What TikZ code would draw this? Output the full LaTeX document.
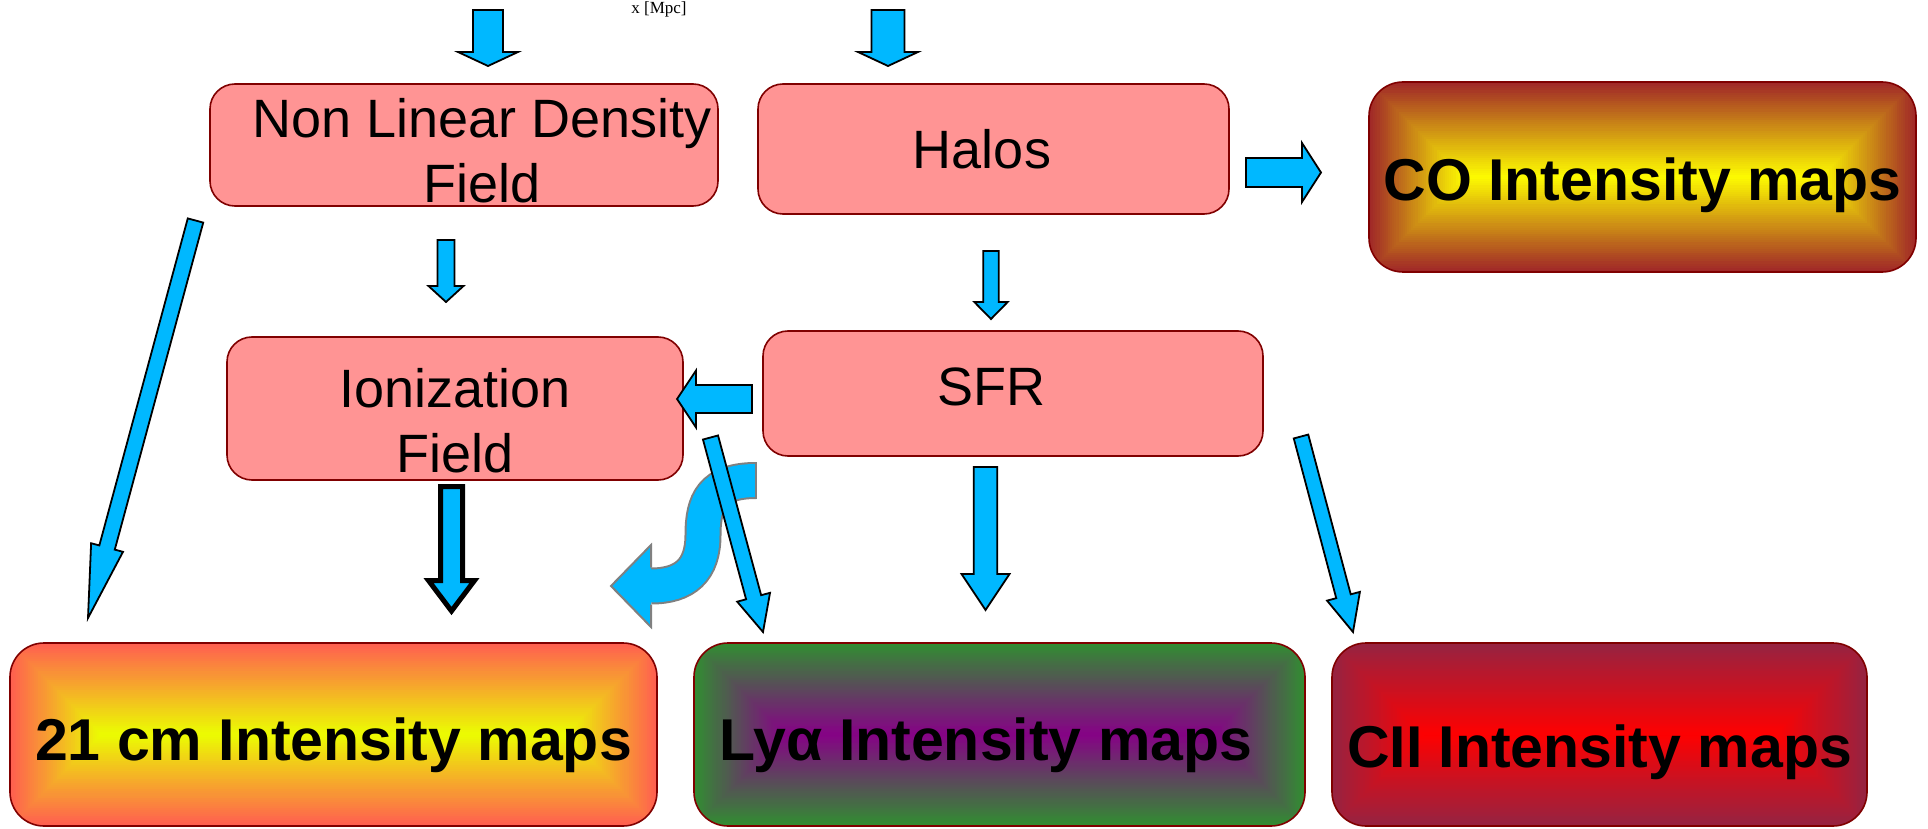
\documentclass[tikz,border=0pt]{standalone}
\usepackage{fontspec}
\setmainfont{Liberation Sans}
\newfontfamily\xlabelfont{Liberation Serif}
\usetikzlibrary{calc}
\definecolor{pinkfill}{RGB}{255,148,148}
\definecolor{boxline}{RGB}{128,0,0}
\definecolor{arrowblue}{RGB}{0,184,255}
\definecolor{sgray}{RGB}{128,128,128}
\definecolor{coOut}{RGB}{160,40,40}
\definecolor{coIn}{RGB}{255,255,0}
\definecolor{hOut}{RGB}{255,95,80}
\definecolor{hIn}{RGB}{235,255,0}
\definecolor{lyOut}{RGB}{50,140,50}
\definecolor{lyIn}{RGB}{135,0,135}
\definecolor{ciiOut}{RGB}{150,35,65}
\definecolor{ciiIn}{RGB}{255,0,0}
\tikzset{
  pinkbox/.style={draw=boxline, fill=pinkfill, line width=1.6pt, rounded corners=25pt,
    inner sep=0pt, font=\fontsize{54}{65}\selectfont, align=center},
  gradbox/.style n args={3}{draw=boxline, line width=1.6pt, rounded corners=34pt, inner sep=0pt,
    font=\fontsize{59}{70}\selectfont\bfseries,
    path picture={
      \foreach \k in {0,...,45}{
        \pgfmathsetmacro{\gd}{#3*\k/45}
        \pgfmathtruncatemacro{\gp}{100*\k/45}
        \fill[#2!\gp!#1, draw=none, sharp corners]
          ([xshift=\gd pt,yshift=\gd pt]path picture bounding box.south west) rectangle
          ([xshift=-\gd pt,yshift=-\gd pt]path picture bounding box.north east);
      }}},
  barrow/.style={draw=black, fill=arrowblue, line width=1.8pt, line join=miter},
}
% #1 extra style, #2 start, #3 tip, #4 shaft half width, #5 head half width, #6 head length
\newcommand{\blockarrow}[6][]{%
  \coordinate (ba-b) at ($(#3)!#6!(#2)$);
  \draw[barrow,#1] ($(#2)!#4!90:(#3)$) -- ($(ba-b)!#4!90:(#3)$) -- ($(ba-b)!#5!90:(#3)$)
    -- (#3) -- ($(ba-b)!#5!-90:(#3)$) -- ($(ba-b)!#4!-90:(#3)$) -- ($(#2)!#4!-90:(#3)$) -- cycle;
}
\begin{document}
\begin{tikzpicture}[x=1pt,y=-1pt]
\useasboundingbox (0,0) rectangle (1928,829);

% boxes
\node[pinkbox, minimum width=508pt, minimum height=122pt] (nldf) at (464,145)
  {\rule{0pt}{50pt}\hspace*{36pt}Non Linear Density\\\hspace*{36pt}Field};
\node[pinkbox, minimum width=471pt, minimum height=130pt] (halos) at (993.5,149) {Halos\hspace*{23pt}};
\node[gradbox={coOut}{coIn}{95}, minimum width=547pt, minimum height=190pt] (co) at (1642.5,177)
  {\rule{0pt}{59pt}CO Intensity maps};
\node[pinkbox, minimum width=456pt, minimum height=143pt] (ion) at (455,408.5)
  {\rule{0pt}{63pt}Ionization\\Field};
\node[pinkbox, minimum width=500pt, minimum height=125pt] (sfr) at (1013,393.5)
  {\rule[-14pt]{0pt}{14pt}SFR\hspace*{44pt}};
\node[gradbox={hOut}{hIn}{91.5}, minimum width=647pt, minimum height=183pt] (cm21) at (333.5,734.5)
  {\rule{0pt}{64pt}21 cm Intensity maps};
\node[gradbox={lyOut}{lyIn}{91.5}, minimum width=611pt, minimum height=183pt] (lya) at (999.5,734.5)
  {\rule{0pt}{64pt}Lyα Intensity maps\hspace*{27pt}};
\node[gradbox={ciiOut}{ciiIn}{91.5}, minimum width=535pt, minimum height=183pt] (cii) at (1599.5,734.5)
  {\rule{0pt}{78pt}CII Intensity maps};

\node[font=\xlabelfont\fontsize{17}{20}\selectfont, anchor=base, inner sep=0pt] (xmpc) at (659,14) {x [Mpc]};

% arrow end points
\coordinate (a1s) at (488,10);      \coordinate (a1t) at (488,66);
\coordinate (a2s) at (888,10);      \coordinate (a2t) at (888,66);
\coordinate (hcs) at (1246,172.5);  \coordinate (hct) at (1321,172.5);
\coordinate (nis) at (446,240);     \coordinate (nit) at (446,302);
\coordinate (nhs) at (195.5,220.5); \coordinate (nht) at (88,618);
\coordinate (hss) at (991,251);     \coordinate (hst) at (991,319);
\coordinate (sis) at (752,399);     \coordinate (sit) at (677,399);
\coordinate (sls) at (985.5,467);   \coordinate (slt) at (985.5,610);
\coordinate (scs) at (1301,436.5);  \coordinate (sct) at (1353,632);
\coordinate (ils) at (710.5,437.5); \coordinate (ilt) at (763,632);
\coordinate (ihs) at (451.5,486.5); \coordinate (iht) at (451.5,611);

% S-shaped arrow
\coordinate (ss) at (756,480.5);
\coordinate (se) at (651,586);
\coordinate (stip) at (611,586);
\draw[line width=33pt, arrowblue, preaction={draw=sgray, line width=37pt}]
  (ss) .. controls (712,480.5) and (703,502) .. (703,535) .. controls (703,570) and (685,586) .. (se);
\fill[arrowblue] (651,545) -- (stip) -- (651,627) -- cycle;
\draw[sgray, line width=2pt, line join=miter] (651,567.5) -- (651,545) -- (stip) -- (651,627) -- (651,604.5);
\draw[sgray, line width=2pt] (756,462) -- (756,499);

% block arrows
\blockarrow{a1s}{a1t}{15pt}{30pt}{14pt}
\blockarrow{a2s}{a2t}{16.5pt}{30pt}{14pt}
\blockarrow{hcs}{hct}{14.5pt}{29.5pt}{19pt}
\blockarrow{nis}{nit}{8.5pt}{17.5pt}{16pt}
\blockarrow{nhs}{nht}{8pt}{16.5pt}{73pt}
\blockarrow{hss}{hst}{7.7pt}{16.7pt}{17pt}
\blockarrow{sis}{sit}{14pt}{28.5pt}{19pt}
\blockarrow{sls}{slt}{11.7pt}{24pt}{36pt}
\blockarrow{scs}{sct}{7.5pt}{17pt}{37pt}
\blockarrow{ils}{ilt}{7.8pt}{17pt}{36pt}
\blockarrow[line width=5pt]{ihs}{iht}{11pt}{23pt}{30.5pt}
\end{tikzpicture}
\end{document}
